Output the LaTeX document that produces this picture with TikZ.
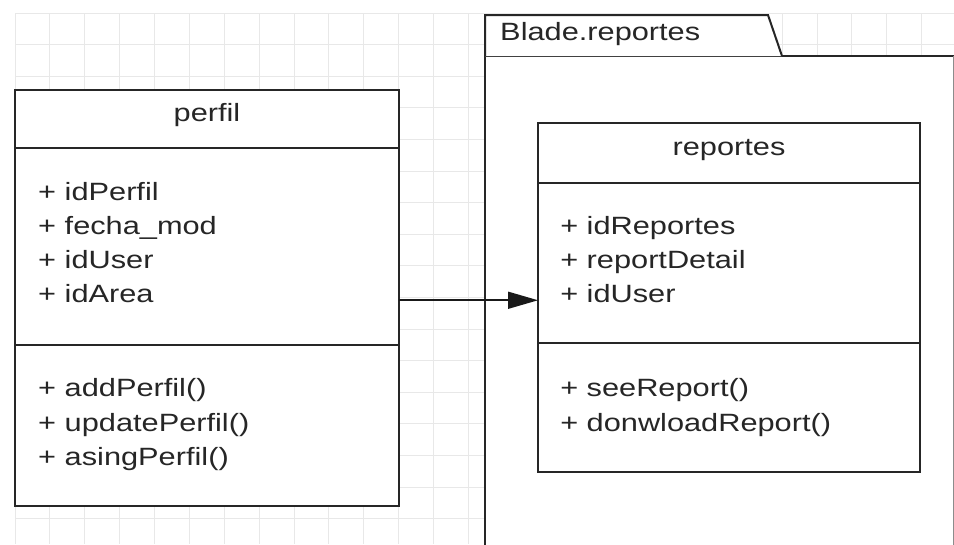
\documentclass[tikz,border=0pt]{standalone}
\usepackage{fontspec}
\setmainfont{Liberation Sans}
\usetikzlibrary{arrows.meta,positioning}

\begin{document}
\begin{tikzpicture}[x=1pt,y=-1pt,
gridln/.style={draw=black!9,line width=0.8pt},
cls/.style={draw=black!85,line width=2.2pt,fill=white,inner sep=0pt,outer sep=0pt},
pkgln/.style={draw=black!85,line width=2pt},
txt/.style={anchor=base west,inner sep=0pt,text=black!85,font=\fontsize{25}{30}\selectfont,xscale=1.23},
ttl/.style={anchor=mid,inner sep=0pt,text=black!85,font=\fontsize{25}{30}\selectfont,xscale=1.23},
arr/.style={-{Triangle[length=30pt,width=17pt]},line width=1.6pt,draw=black!90}]
\useasboundingbox (0,0) rectangle (954,544);
\clip (0,0) rectangle (954,544);
% background grid
\foreach \i in {0,...,27} \draw[gridln] (15+\i*34.87,13) -- (15+\i*34.87,544);
\foreach \j in {0,...,17} \draw[gridln] (15,13+\j*31.6) -- (954,13+\j*31.6);
% package Blade.reportes
\fill[white] (485,56) rectangle (953,560);
\draw[pkgln] (485,560) -- (485,56) -- (954,56);
\draw[black!45,line width=1pt] (953,56) -- (953,560);
\filldraw[pkgln,fill=white] (485,56) -- (485,15) -- (768,15) -- (782,56);
\node[txt] (pkglbl) at (500,40) {Blade.reportes};
% class perfil
\node[cls,anchor=north west,minimum width=384pt,minimum height=58pt] (phead) at (15,90) {};
\node[cls,below=0pt of phead,minimum width=384pt,minimum height=197pt] (pattr) {};
\node[cls,below=0pt of pattr,minimum width=384pt,minimum height=161pt] (pmeth) {};
\node[ttl] (ptitle) at (phead.center) {perfil};
\node[txt] (pa1) at (38,200) {+ idPerfil};
\node[txt] (pa2) at (38,234.3) {+ fecha\_mod};
\node[txt] (pa3) at (38,268.6) {+ idUser};
\node[txt] (pa4) at (38,302.9) {+ idArea};
\node[txt] (pm1) at (38,396.7) {+ addPerfil()};
\node[txt] (pm2) at (38,431) {+ updatePerfil()};
\node[txt] (pm3) at (38,465.3) {+ asingPerfil()};
% class reportes
\node[cls,anchor=north west,minimum width=382pt,minimum height=60pt] (rhead) at (538,123) {};
\node[cls,below=0pt of rhead,minimum width=382pt,minimum height=160pt] (rattr) {};
\node[cls,below=0pt of rattr,minimum width=382pt,minimum height=129pt] (rmeth) {};
\node[ttl] (rtitle) at (rhead.center) {reportes};
\node[txt] (ra1) at (560,234) {+ idReportes};
\node[txt] (ra2) at (560,268.3) {+ reportDetail};
\node[txt] (ra3) at (560,302.6) {+ idUser};
\node[txt] (rm1) at (560,396.7) {+ seeReport()};
\node[txt] (rm2) at (560,431) {+ donwloadReport()};
% association
\draw[arr] (pattr.east |- pa4.mid) -- (rattr.west |- pa4.mid);
\end{tikzpicture}
\end{document}
